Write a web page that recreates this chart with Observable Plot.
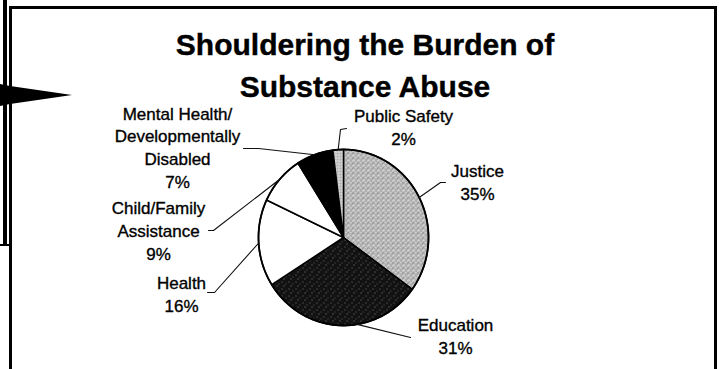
<!DOCTYPE html>
<html><head><meta charset="utf-8">
<script src="https://cdn.jsdelivr.net/npm/d3@7"></script>
<script src="https://cdn.jsdelivr.net/npm/@observablehq/plot@0.6"></script>
<style>
html,body{margin:0;padding:0;background:#fff;}
#wrap{position:relative;width:719px;height:369px;overflow:hidden;font-family:"Liberation Sans",Arial,sans-serif;}
#chart{position:absolute;left:0;top:0;}
#title{position:absolute;left:0;width:730px;top:24px;text-align:center;font-weight:bold;font-size:30px;line-height:42px;color:#000;-webkit-text-stroke:0.4px #000;}
.ln{position:absolute;background:#000;}
#arrow{position:absolute;left:0;top:84px;width:72px;height:22px;background:#000;clip-path:polygon(0 0,14% 9%,100% 50%,14% 91%,0 100%);}
</style></head><body>
<div id="wrap">
  <div id="chart"></div>
  <div id="title">Shouldering the Burden of<br>Substance Abuse</div>
  <div class="ln" style="left:9px;top:6px;width:708px;height:3px"></div>
  <div class="ln" style="left:3px;top:0px;width:4px;height:245px"></div>
  <div class="ln" style="left:0px;top:244px;width:10px;height:2px"></div>
  <div class="ln" style="left:9px;top:6px;width:3px;height:363px"></div>
  <div class="ln" style="left:714px;top:6px;width:3px;height:363px"></div>
  <div id="arrow"></div>
</div>
<script>
// ---- data ----
const categories = ["Justice", "Education", "Health", "Child/Family\nAssistance", "Mental Health/\nDevelopmentally\nDisabled", "Public Safety"];
const shares = [35, 31, 16, 9, 7, 2];
const pctLabels = ["35%", "31%", "16%", "9%", "7%", "2%"];

// ---- styling / layout (pixels) ----
const fills = ["url(#pJustice)", "url(#pEdu)", "#ffffff", "#ffffff", "#000000", "url(#pSafety)"];
const cx = 343, cy = 237, rx = 85, ry = 88;
const labelAt = [[477, 199], [455, 353], [181, 311], [158, 259], [177, 187], [403, 144]]; // center x, last baseline
const leaderShiftDeg = [0, -11, 0, 0, 0, 0];
const leaderVia = [
  [[440, 182], [445, 182]],
  [[410, 337]],
  [[214, 292], [207, 292]],
  [[213, 230], [208, 230]],
  [[258, 148], [243, 148]],
  [[340, 129], [346, 128]]
];
const px2x = p => (p - cx) / rx;
const px2y = p => (cy - p) / ry;

const arcs = d3.pie().sort(null).value(d => d)(shares);
const slicePts = [];
arcs.forEach((a, i) => {
  slicePts.push({key: i, x: 0, y: 0, fill: fills[i]});
  const n = Math.max(2, Math.ceil((a.endAngle - a.startAngle) / (Math.PI / 180)));
  for (let k = 0; k <= n; k++) {
    const t = a.startAngle + (a.endAngle - a.startAngle) * k / n;
    slicePts.push({key: i, x: Math.sin(t), y: Math.cos(t), fill: fills[i]});
  }
  slicePts.push({key: i, x: 0, y: 0, fill: fills[i]});
});
const rim = d3.range(0, 361).map(d => ({x: Math.sin(d * Math.PI / 180), y: Math.cos(d * Math.PI / 180)}));

const leaderPts = [];
arcs.forEach((a, i) => {
  const m = (a.startAngle + a.endAngle) / 2 + leaderShiftDeg[i] * Math.PI / 180;
  leaderPts.push({key: i, x: Math.sin(m), y: Math.cos(m)});
  leaderVia[i].forEach(p => leaderPts.push({key: i, x: px2x(p[0]), y: px2y(p[1])}));
});
const labels = categories.map((c, i) => ({
  text: c + "\n" + pctLabels[i], x: px2x(labelAt[i][0]), y: px2y(labelAt[i][1])
}));

const chart = Plot.plot({
  width: 719, height: 369, margin: 0,
  x: {domain: [-1, 1], range: [cx - rx, cx + rx], axis: null},
  y: {domain: [-1, 1], range: [cy + ry, cy - ry], axis: null},
  color: {type: "identity"},
  style: {fontFamily: '"Liberation Sans", Arial, sans-serif', background: "transparent", overflow: "visible"},
  marks: [
    Plot.line(slicePts, {x: "x", y: "y", z: "key", fill: "fill", stroke: "#000", strokeWidth: 1.5, strokeLinejoin: "round"}),
    Plot.line(rim, {x: "x", y: "y", stroke: "#000", strokeWidth: 1.8}),
    Plot.line(leaderPts, {x: "x", y: "y", z: "key", stroke: "#111", strokeWidth: 1.1}),
    Plot.text(labels, {x: "x", y: "y", text: "text", lineAnchor: "bottom", lineHeight: 1.33, fontSize: 17, fill: "#000", stroke: "#000", strokeWidth: 0.35, textAnchor: "middle", style: "letter-spacing:0.3px"})
  ]
});
document.getElementById("chart").appendChild(chart);

// texture patterns for the shaded slices
const svg = d3.select(chart);
const defs = svg.insert("defs", ":first-child");
function pattern(id, size, base, dots) {
  const p = defs.append("pattern").attr("id", id).attr("patternUnits", "userSpaceOnUse")
    .attr("width", size).attr("height", size);
  p.append("rect").attr("width", size).attr("height", size).attr("fill", base);
  dots.forEach(([x, y, c]) => p.append("rect").attr("x", x).attr("y", y).attr("width", 1).attr("height", 1).attr("fill", c));
}
pattern("pJustice", 5, "#bcbcbc", [[0,0,"#808080"],[3,1,"#858585"],[1,3,"#858585"],[4,3,"#959595"],[2,2,"#747474"],[2,0,"#ebebeb"],[0,2,"#e8e8e8"],[4,1,"#e0e0e0"],[3,4,"#ebebeb"]]);
pattern("pEdu", 7, "#121212", [[1,1,"#707070"],[5,3,"#5a5a5a"],[3,5,"#808080"]]);
pattern("pSafety", 3, "#d0d0d0", [[0,0,"#8f8f8f"],[2,1,"#f0f0f0"],[1,2,"#9a9a9a"]]);
</script>
</body></html>
